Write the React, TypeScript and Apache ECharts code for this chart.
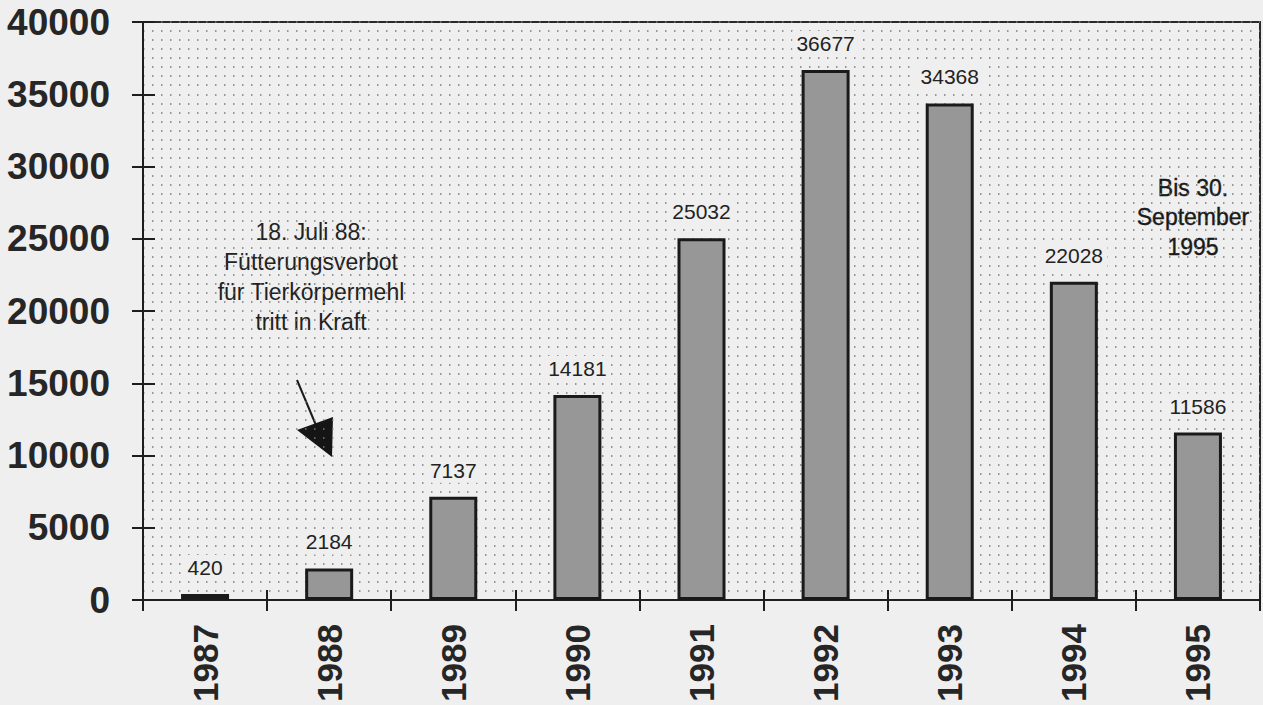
import React, { useEffect, useRef } from 'react';
import * as echarts from 'echarts';

const years = ['1987', '1988', '1989', '1990', '1991', '1992', '1993', '1994', '1995'];
const cases = [420, 2184, 7137, 14181, 25032, 36677, 34368, 22028, 11586];
const yMin = 0;
const yMax = 40000;
const yStep = 5000;
const noteLeft = ['18. Juli 88:', 'Fütterungsverbot', 'für Tierkörpermehl', 'tritt in Kraft'];
const noteRight = ['Bis 30.', 'September', '1995'];

const FONT = '"Liberation Sans", Arial, Helvetica, sans-serif';
const dots = { color: '#7a7a7a', width: 1.5, type: [1.5, 7.5] as number[] };

export default function App() {
  const ref = useRef<HTMLDivElement>(null);
  useEffect(() => {
    if (!ref.current) return;
    const chart = echarts.init(ref.current, null, { renderer: 'svg' });
    chart.setOption({
      animation: false,
      backgroundColor: '#efefef',
      grid: {
        left: 143, right: 3, top: 22, bottom: 105,
        outerBoundsMode: 'none', containLabel: false,
        show: true, borderColor: '#2a2a2a', borderWidth: 2,
      },
      xAxis: [
        {
          type: 'category', data: years, position: 'bottom',
          axisLine: { lineStyle: { color: '#1e1e1e', width: 2 } },
          axisTick: { show: true, length: 11, lineStyle: { color: '#1e1e1e', width: 2 } },
          axisLabel: {
            rotate: 90, margin: 24, fontSize: 35, fontWeight: 'bold',
            fontFamily: FONT, color: '#262626',
          },
          splitLine: { show: false },
        },
        {
          type: 'category', data: years, position: 'bottom',
          axisLine: { show: false },
          axisTick: { show: true, inside: true, length: 10, lineStyle: { color: '#1e1e1e', width: 2 } },
          axisLabel: { show: false },
          splitLine: { show: false },
        },
      ],
      yAxis: [
        {
          type: 'value', min: yMin, max: yMax, interval: yStep, position: 'left',
          axisLine: { show: true, lineStyle: { color: '#1e1e1e', width: 2 } },
          axisTick: { show: true, length: 11, lineStyle: { color: '#1e1e1e', width: 2 } },
          axisLabel: {
            margin: 33, fontSize: 37, fontWeight: 'bold', fontFamily: FONT, color: '#262626',
            formatter: (v: number) => String(v),
          },
          splitLine: { show: true, lineStyle: dots },
          minorTick: { show: false, splitNumber: 8 },
          minorSplitLine: { show: true, lineStyle: dots },
        },
        {
          type: 'value', min: yMin, max: yMax, interval: yStep, position: 'left',
          axisLine: { show: false },
          axisTick: { show: true, inside: true, length: 12, lineStyle: { color: '#1e1e1e', width: 2 } },
          axisLabel: { show: false },
          splitLine: { show: false },
        },
      ],
      series: [
        {
          type: 'bar', data: cases, xAxisIndex: 0, yAxisIndex: 0,
          barWidth: 48,
          itemStyle: { color: '#979797', borderColor: '#1a1a1a', borderWidth: 3 },
          label: {
            show: true, position: 'top', distance: 14,
            fontSize: 21, fontFamily: FONT, color: '#222',
            backgroundColor: '#efefef', padding: [2, 4],
          },
        },
      ],
      graphic: [
        {
          type: 'text', x: 311, y: 217,
          style: {
            text: noteLeft.join('\n'), align: 'center', verticalAlign: 'top',
            lineHeight: 30, fontSize: 23, fontFamily: FONT, fill: '#222',
          },
        },
        {
          type: 'text', x: 1193, y: 173,
          style: {
            text: noteRight.join('\n'), align: 'center', verticalAlign: 'top',
            lineHeight: 29.5, fontSize: 23, fontFamily: FONT, fill: '#1a1a1a',
            stroke: '#1a1a1a', lineWidth: 0.4,
          },
        },
        {
          type: 'line',
          shape: { x1: 297, y1: 380, x2: 318, y2: 430 },
          style: { stroke: '#1a1a1a', lineWidth: 2 },
        },
        {
          type: 'polygon',
          shape: { points: [[297, 430], [333, 417], [332, 457]] },
          style: { fill: '#151515' },
        },
      ],
    });
    return () => chart.dispose();
  }, []);
  return (
    <div
      ref={ref}
      style={{ position: 'fixed', left: 0, top: 0, width: 1263, height: 705, background: '#efefef' }}
    />
  );
}
